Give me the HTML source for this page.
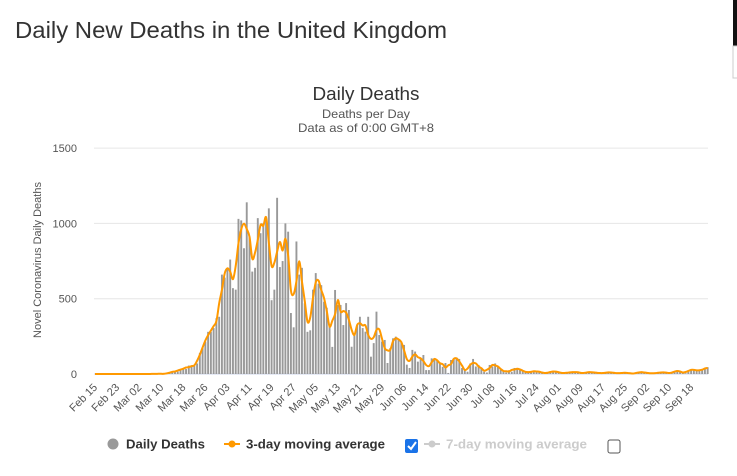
<!DOCTYPE html>
<html><head><meta charset="utf-8"><style>
html,body{margin:0;padding:0;background:#fff;width:737px;height:476px;overflow:hidden}
svg{display:block;font-family:"Liberation Sans",sans-serif}
</style></head><body>
<svg id="c" width="737" height="476" viewBox="0 0 737 476">
<rect x="733" y="0" width="4" height="46" fill="#111"/>
<rect x="733" y="46" width="6" height="32" fill="#fff" stroke="#ccc"/>
<text x="15" y="38" font-size="23" fill="#333" textLength="432" lengthAdjust="spacingAndGlyphs">Daily New Deaths in the United Kingdom</text>
<text x="366" y="100" font-size="18" fill="#333" text-anchor="middle" textLength="107" lengthAdjust="spacingAndGlyphs">Daily Deaths</text>
<text x="366" y="118" font-size="12" fill="#555" text-anchor="middle" textLength="88" lengthAdjust="spacingAndGlyphs">Deaths per Day</text>
<text x="366" y="132" font-size="12" fill="#555" text-anchor="middle" textLength="136" lengthAdjust="spacingAndGlyphs">Data as of 0:00 GMT+8</text>
<text transform="translate(41,260) rotate(-90)" font-size="11" fill="#555" text-anchor="middle">Novel Coronavirus Daily Deaths</text>
<g id="grid"></g><g id="bars"></g><g id="line"></g><g id="xl"></g>
<g>
<g><circle cx="113" cy="444" r="5.5" fill="#999"/><text x="126" y="448.5" font-size="13" font-weight="bold" fill="#333" textLength="79" lengthAdjust="spacingAndGlyphs">Daily Deaths</text></g>
<g><line x1="224" y1="444" x2="240" y2="444" stroke="#f90" stroke-width="2"/><circle cx="232" cy="444" r="3.5" fill="#f90"/><text x="246" y="448.5" font-size="13" font-weight="bold" fill="#333" textLength="139" lengthAdjust="spacingAndGlyphs">3-day moving average</text></g>
<g><rect x="405" y="439" width="13" height="14" rx="2" fill="#1a73e8"/><path d="M408 446 l3 3 l5 -7" stroke="#fff" stroke-width="2" fill="none"/></g>
<g><line x1="424" y1="444" x2="440" y2="444" stroke="#ccc" stroke-width="2"/><circle cx="432" cy="444" r="3.5" fill="#ccc"/><text x="446" y="448.5" font-size="13" font-weight="bold" fill="#ccc" textLength="141" lengthAdjust="spacingAndGlyphs">7-day moving average</text></g>
<rect x="608" y="440" width="12" height="13" rx="2" fill="#fff" stroke="#555"/>
</g>
</svg>
<script>
const yTicks=[0,500,1000,1500];
const xLabels=["Feb 15","Feb 23","Mar 02","Mar 10","Mar 18","Mar 26","Apr 03","Apr 11","Apr 19","Apr 27","May 05","May 13","May 21","May 29","Jun 06","Jun 14","Jun 22","Jun 30","Jul 08","Jul 16","Jul 24","Aug 01","Aug 09","Aug 17","Aug 25","Sep 02","Sep 10","Sep 18"];
const deathsEarly=[0,0,0,0,0,0,0,0,0,0,0,0,0,0,0,0,0,0,0,0,1,0,2,1,1,2,1,10,14,20,16,33,40,33,56,48,54];
const deathsPeak=[70,140,175,215,280,280,305,370,380,660,640,705,760,570,560,1030,1020,835,1140,910,680,705,1035,935,1000,1020,1100,490,560,1170,710,750,1000,945];
const deathsDecline=[405,310,880,660,705,470,280,290,560,670,600,590,480,440,325,180,558,458,458,325,471,425,181,272,325,380,305,281,380,115,205,414,259,215,226,73,172,237,248,226,215,193,62,40,160,149,82,104,126,26,26,104,104,93,73,48,73,7,93];
const deathsLate=[100,110,100,40,25,15,70,100,50,60,40,15,10,60,50,70,50,30,20,10,25,
15,40,35,30,25,10,8,20,15,20,15,10,5,5,15,20,15,12,8,3,
10,12,10,15,12,8,3,10,15,12,8,10,5,4,10,12,10,8,6,3,8,10,6,5,3,2,15,12,10,8,
5,3,6,8,10,12,10,6,3,20,25,15,10,5,25,30,28,25,20,30,35,45];
const deaths=deathsEarly.concat(deathsPeak,deathsDecline,deathsLate);
const NS="http://www.w3.org/2000/svg";
const X0=95,DX=2.76,Y0=374,PY=75.3/500;
const xs=i=>X0+i*DX, ys=v=>Y0-v*PY;
function mk(t,a,p){const e=document.createElementNS(NS,t);for(const k in a)e.setAttribute(k,a[k]);p.appendChild(e);return e;}
const grid=document.getElementById('grid');
yTicks.forEach(v=>{
  const l=mk('line',{x1:94,x2:708,y1:ys(v),y2:ys(v),stroke:v?'#e6e6e6':'#ccd6eb','stroke-width':1},grid);
  
  
  const t=mk('text',{x:77,y:ys(v)+4,'font-size':11,fill:'#555','text-anchor':'end'},grid);
  t.textContent=v;
  
  
});
const bars=document.getElementById('bars');
deaths.forEach((v,i)=>{
  const r=mk('rect',{x:xs(i)-1,y:ys(v),width:1.9,height:Math.max(0,Y0-ys(v)),fill:'#999'},bars);
  
  
});
const avg=deaths.map((v,i)=>{const a=deaths.slice(Math.max(0,i-1),i+2);return a.reduce((s,x)=>s+x,0)/a.length;});
const pts=avg.map((v,i)=>[xs(i),ys(v)]);
let d='M'+pts[0][0]+' '+pts[0][1];
for(let i=0;i<pts.length-1;i++){const p0=pts[Math.max(0,i-1)],p1=pts[i],p2=pts[i+1],p3=pts[Math.min(pts.length-1,i+2)];
 d+=` C${p1[0]+(p2[0]-p0[0])/6} ${p1[1]+(p2[1]-p0[1])/6} ${p2[0]-(p3[0]-p1[0])/6} ${p2[1]-(p3[1]-p1[1])/6} ${p2[0]} ${p2[1]}`;}
const ln=mk('path',{d:d,fill:'none',stroke:'#f90','stroke-width':2},document.getElementById('line'));


const xl=document.getElementById('xl');
xLabels.forEach((s,k)=>{
  const x=xs(k*8);
  const t=mk('text',{transform:`translate(${x+3},${388}) rotate(-45)`,'font-size':11,fill:'#555','text-anchor':'end'},xl);
  t.textContent=s;
  
  
});
</script>
</body></html>
